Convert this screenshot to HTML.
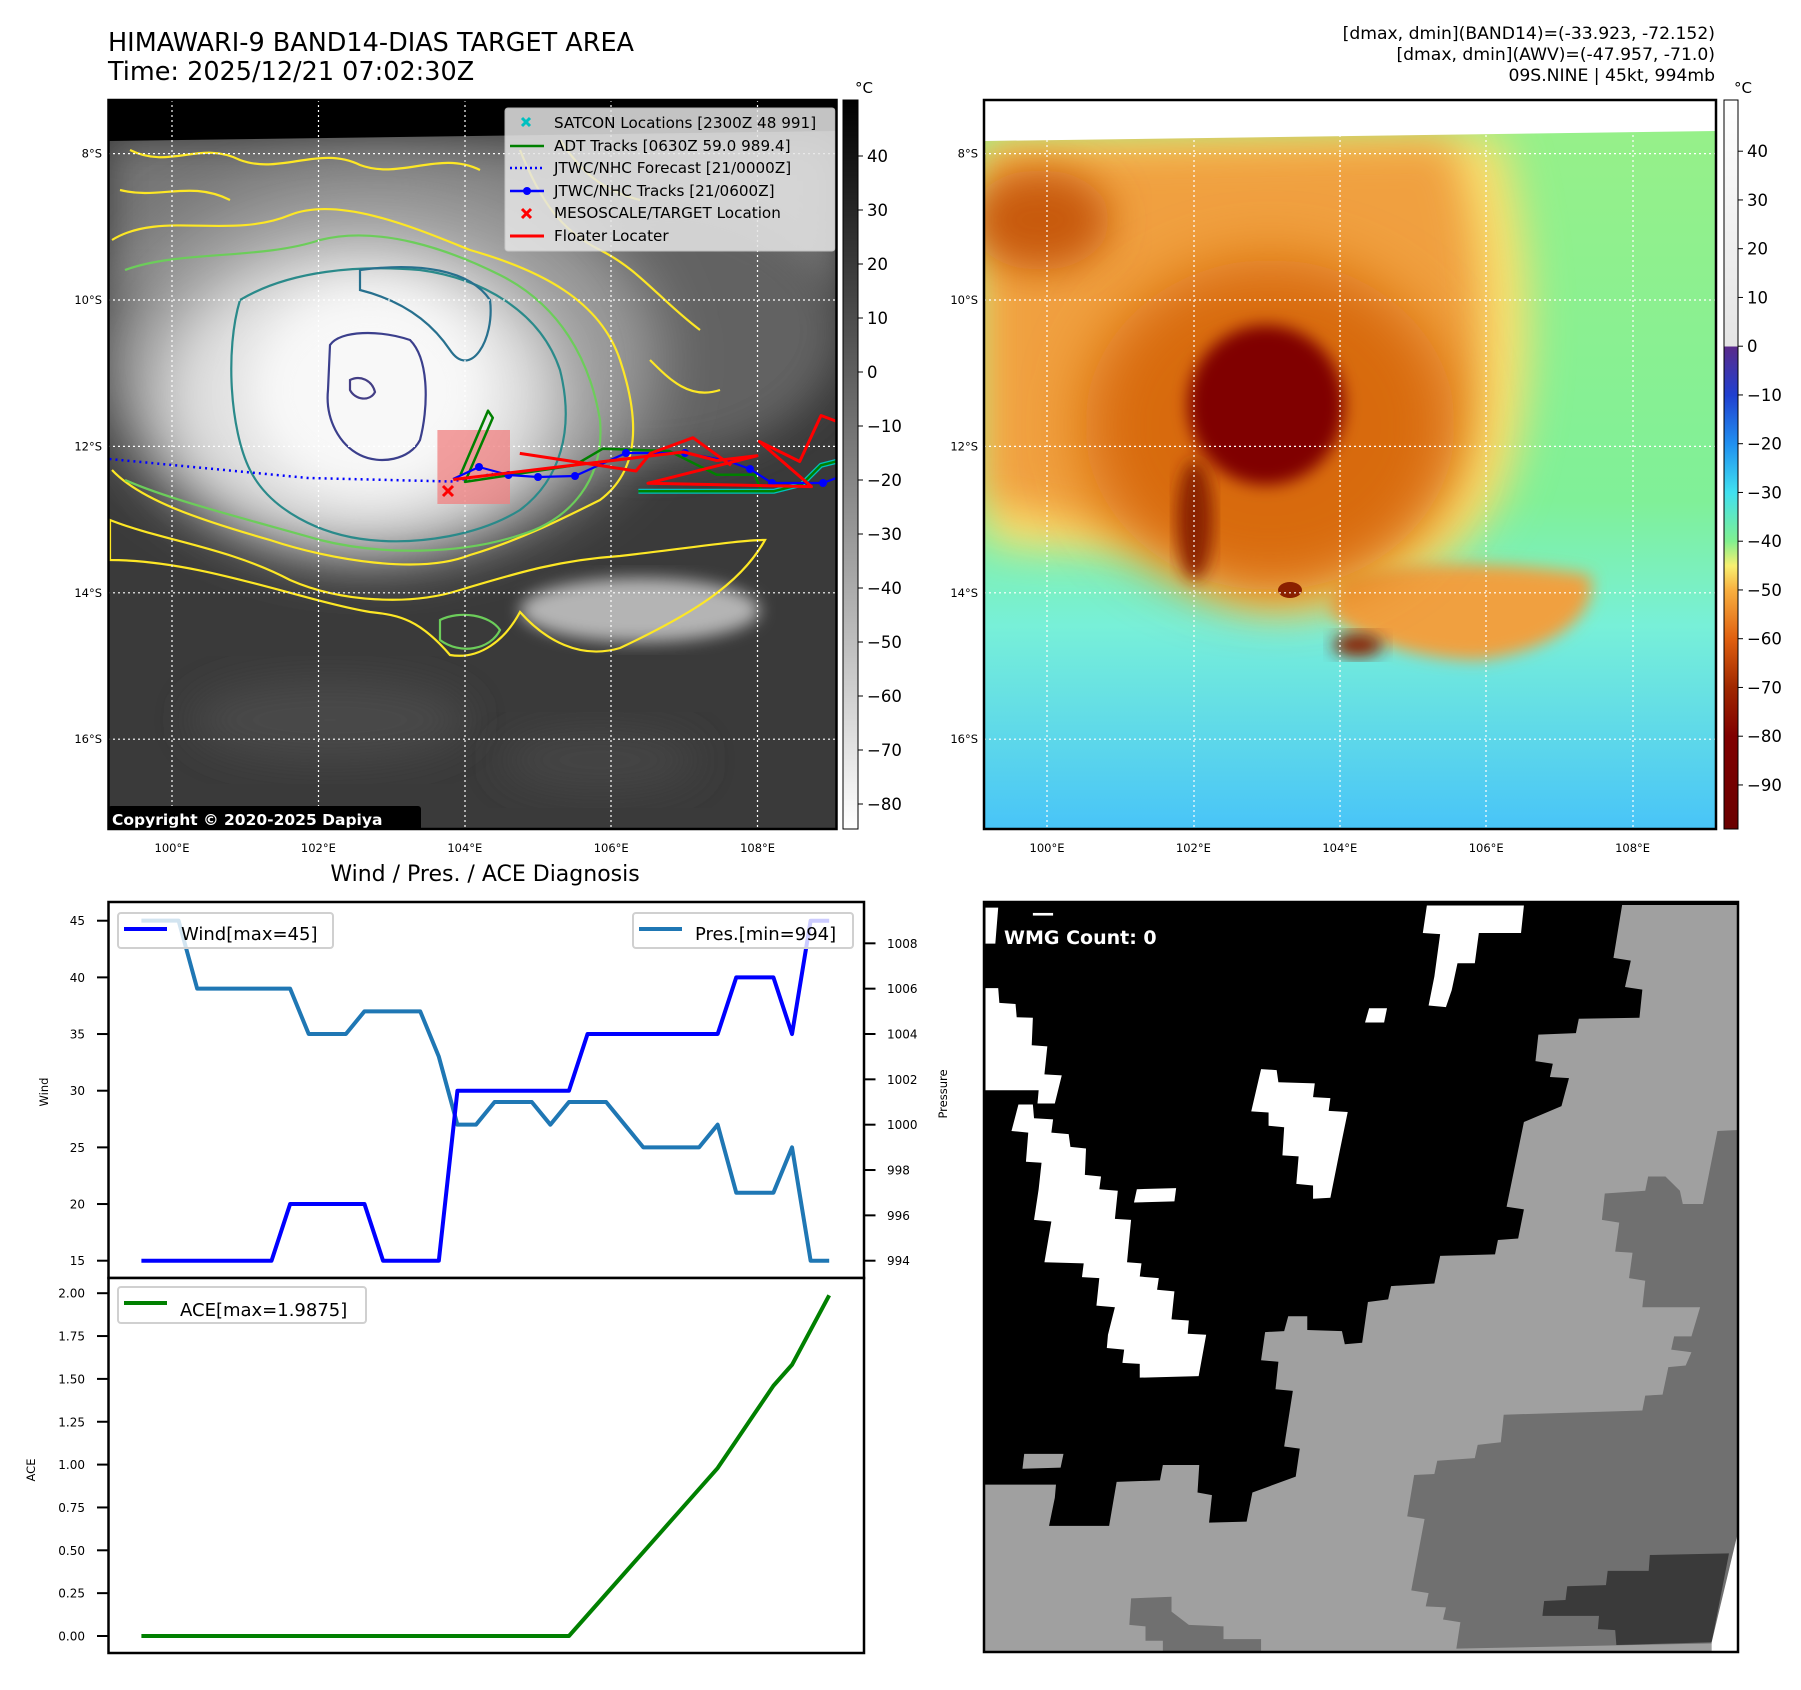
<!DOCTYPE html>
<html><head><meta charset="utf-8"><style>
html,body{margin:0;padding:0;background:#fff;}
svg{display:block;font-family:"DejaVu Sans","Liberation Sans",sans-serif;}
</style></head><body>
<svg id="fig" width="1801" height="1690" viewBox="0 0 1801 1690" xmlns="http://www.w3.org/2000/svg">
<defs>
<clipPath id="cl"><rect x="108.5" y="100" width="728" height="729"/></clipPath>
<clipPath id="cr"><rect x="984" y="100" width="732" height="729"/></clipPath>
<clipPath id="cb"><rect x="984" y="902" width="754" height="750"/></clipPath>
<filter id="b8" x="-20%" y="-20%" width="140%" height="140%"><feGaussianBlur stdDeviation="8"/></filter>
<filter id="b20" x="-30%" y="-30%" width="160%" height="160%"><feGaussianBlur stdDeviation="20"/></filter>
<filter id="b35" x="-40%" y="-40%" width="180%" height="180%"><feGaussianBlur stdDeviation="30"/></filter>
<linearGradient id="gcb" x1="0" y1="0" x2="0" y2="1"><stop offset="0" stop-color="#000"/><stop offset="1" stop-color="#fff"/></linearGradient>
<linearGradient id="ccb" x1="0" y1="0" x2="0" y2="1">
<stop offset="0" stop-color="#ffffff"/><stop offset="0.338" stop-color="#e4e4e4"/><stop offset="0.338" stop-color="#5a2a8a"/>
<stop offset="0.405" stop-color="#2040d0"/><stop offset="0.472" stop-color="#2090f0"/><stop offset="0.538" stop-color="#40e0f0"/>
<stop offset="0.605" stop-color="#80f090"/><stop offset="0.639" stop-color="#f8f070"/><stop offset="0.672" stop-color="#f8b040"/>
<stop offset="0.739" stop-color="#e06010"/><stop offset="0.806" stop-color="#a02800"/><stop offset="0.873" stop-color="#800000"/><stop offset="1" stop-color="#6a0000"/></linearGradient>
<linearGradient id="rbg" x1="0" y1="0" x2="0" y2="1">
<stop offset="0" stop-color="#98f088"/><stop offset="0.55" stop-color="#80f098"/><stop offset="0.72" stop-color="#78f0d8"/><stop offset="1" stop-color="#48c4f8"/></linearGradient>
</defs>

<text x="108" y="51" font-size="25.5">HIMAWARI-9 BAND14-DIAS TARGET AREA</text>
<text x="108" y="80" font-size="25.5">Time: 2025/12/21 07:02:30Z</text>
<g font-size="17.2" text-anchor="end">
<text x="1715" y="39">[dmax, dmin](BAND14)=(-33.923, -72.152)</text>
<text x="1715" y="60">[dmax, dmin](AWV)=(-47.957, -71.0)</text>
<text x="1715" y="81">09S.NINE | 45kt, 994mb</text>
</g>

<g clip-path="url(#cl)">
<rect x="108" y="100" width="730" height="730" fill="#3a3a3a"/>
<rect x="108" y="140" width="730" height="150" fill="#767676" filter="url(#b20)"/>
<ellipse cx="650" cy="330" rx="190" ry="130" fill="#626262" filter="url(#b20)"/>
<ellipse cx="380" cy="360" rx="280" ry="190" fill="#9a9a9a" filter="url(#b35)"/>
<ellipse cx="360" cy="395" rx="200" ry="150" fill="#e2e2e2" filter="url(#b35)"/>
<ellipse cx="370" cy="390" rx="120" ry="105" fill="#f8f8f8" filter="url(#b20)"/>
<ellipse cx="640" cy="610" rx="120" ry="32" fill="#b4b4b4" filter="url(#b8)"/>
<ellipse cx="330" cy="720" rx="140" ry="40" fill="#484848" filter="url(#b20)"/>
<ellipse cx="600" cy="760" rx="100" ry="30" fill="#454545" filter="url(#b20)"/>
<polygon points="108,100 840,100 840,131 108,141" fill="#000"/>
<g fill="none" stroke-width="2.2">
<path d="M110,520 C160,540 230,548 290,580 C340,602 410,606 460,590 C520,572 560,560 620,556 C690,548 740,540 765,540 C740,585 690,615 620,648 C580,660 545,640 520,612 C505,640 480,660 450,655 C420,620 400,615 370,612 C300,600 200,560 110,560 Z" stroke="#fde725"/>
<path d="M112,240 C160,210 230,240 290,215 C340,195 420,230 470,250 C540,270 600,300 620,360 C640,420 640,470 600,500 C560,520 520,540 470,555 C420,575 330,560 270,540 C200,520 140,500 112,470" stroke="#fde725"/>
<path d="M130,150 C170,170 200,140 240,160 C280,175 320,145 360,165 C400,180 440,150 480,170 M120,190 C160,200 190,180 230,200 M520,150 C540,200 560,230 600,250 C640,270 660,300 700,330 M650,360 C670,380 690,400 720,390 M560,140 C580,170 600,190 640,200" stroke="#fde725"/>
<path d="M125,270 C180,250 260,260 320,240 C380,225 450,250 500,275 C560,305 590,360 600,420 C605,480 570,520 520,535 C460,555 380,555 320,540 C250,520 170,500 125,480" stroke="#6ccd5a"/>
<path d="M240,300 C290,270 360,265 420,270 C480,278 540,310 560,370 C575,430 560,480 520,510 C480,535 420,545 370,540 C320,535 270,510 250,470 C230,430 225,350 240,300 Z" stroke="#2a8a8a"/>
<path d="M360,270 C420,262 470,270 490,300 C495,340 470,380 450,350 C430,320 400,300 360,290 Z" stroke="#27708e"/>
<path d="M330,345 C340,330 380,330 410,340 C430,360 428,410 420,440 C410,460 380,465 360,455 C340,445 325,420 328,390 Z" stroke="#3b3f8c"/>
<path d="M350,380 C360,375 372,380 375,392 C370,402 355,400 350,390 Z" stroke="#433e85"/>
<path d="M440,620 C460,610 490,615 500,630 C490,650 460,655 440,640 Z" stroke="#6ccd5a"/>
</g>
<g fill="none" stroke-width="1.2" stroke="#fff" stroke-dasharray="2,3">
<line x1="172" y1="100" x2="172" y2="830"/><line x1="318.5" y1="100" x2="318.5" y2="830"/><line x1="465" y1="100" x2="465" y2="830"/><line x1="611" y1="100" x2="611" y2="830"/><line x1="757.5" y1="100" x2="757.5" y2="830"/>
<line x1="108" y1="153.6" x2="838" y2="153.6"/><line x1="108" y1="300" x2="838" y2="300"/><line x1="108" y1="446.4" x2="838" y2="446.4"/><line x1="108" y1="592.8" x2="838" y2="592.8"/><line x1="108" y1="739.2" x2="838" y2="739.2"/>
</g>
<rect x="437.4" y="430" width="72.6" height="74" fill="#f08080" opacity="0.75"/>
<g fill="none" stroke-linejoin="round">
<polyline points="109.5,459 308,478 451,481.5 493,474" stroke="#0000ff" stroke-width="2.5" stroke-dasharray="2,4"/>
<polyline points="460.5,474.7 488,410.7 492.8,417.8 465,481.9 574.4,465.3 602.8,448.7 669.2,451 716.7,474.7 754.6,474.7 761.7,491.3" stroke="#008000" stroke-width="2.5"/>
<polyline points="638.4,491.3 773.6,491.3 802,484.2 821,465.3 840,460.5" stroke="#00c0c0" stroke-width="5"/>
<polyline points="638.4,491.3 773.6,491.3 802,484.2 821,465.3 840,460.5" stroke="#008000" stroke-width="2.5"/>
<polyline points="453,479 479,467 508.5,475 538,477 575,476 626,453 685,453 728,461 750,469 772,483 823,483 839,477" stroke="#0000ff" stroke-width="2.2"/>
<g fill="#0000ff"><circle cx="479" cy="467" r="4"/><circle cx="508.5" cy="475" r="4"/><circle cx="538" cy="477" r="4"/><circle cx="575" cy="476" r="4"/><circle cx="626" cy="453" r="4"/><circle cx="685" cy="453" r="4"/><circle cx="750" cy="469" r="4"/><circle cx="772" cy="483" r="4"/><circle cx="823" cy="483" r="4"/></g>
<polyline points="453.4,479.5 683.5,452 716.7,460.5 757,455.8 647.9,483.3 811.5,486.6 759.4,441.5 799.7,461.5 821,415.5 840,422.6" stroke="#ff0000" stroke-width="3"/>
<polyline points="519.8,453.4 636,471 650.3,453.4 693,437.7 731,465.3" stroke="#ff0000" stroke-width="3"/>
<path d="M443,486 L453,496 M453,486 L443,496" stroke="#ff0000" stroke-width="3"/>
</g>
<g>
<rect x="505" y="108" width="330" height="143" rx="3" fill="#e6e6e6" opacity="0.85" stroke="#d0d0d0"/>
<g font-size="15.2" fill="#000">
<text x="554" y="128">SATCON Locations [2300Z 48 991]</text>
<text x="554" y="151">ADT Tracks [0630Z 59.0 989.4]</text>
<text x="554" y="173">JTWC/NHC Forecast [21/0000Z]</text>
<text x="554" y="196">JTWC/NHC Tracks [21/0600Z]</text>
<text x="554" y="218">MESOSCALE/TARGET Location</text>
<text x="554" y="241">Floater Locater</text>
</g>
<path d="M522,118 L530,126 M530,118 L522,126" stroke="#00c0c0" stroke-width="3"/>
<line x1="510" y1="146" x2="544" y2="146" stroke="#008000" stroke-width="2.5"/>
<line x1="510" y1="168" x2="544" y2="168" stroke="#0000ff" stroke-width="2.5" stroke-dasharray="2,3"/>
<line x1="510" y1="191" x2="544" y2="191" stroke="#0000ff" stroke-width="2.5"/><circle cx="527" cy="191" r="4" fill="#0000ff"/>
<path d="M522,209 L531,218 M531,209 L522,218" stroke="#ff0000" stroke-width="3"/>
<line x1="510" y1="236" x2="544" y2="236" stroke="#ff0000" stroke-width="3"/>
</g>
<rect x="108" y="806" width="313" height="26" rx="3" fill="#000"/>
<text x="112" y="825" font-size="15.5" font-weight="bold" fill="#fff">Copyright © 2020-2025 Dapiya</text>
</g>
<rect x="108.5" y="100" width="728" height="729" fill="none" stroke="#000" stroke-width="2.5"/>
<rect x="843" y="100" width="15" height="729" fill="url(#gcb)" stroke="#000" stroke-width="1"/>
<text x="855" y="93" font-size="15">°C</text>
<g id="lcbt" font-size="16.5"></g>

<g clip-path="url(#cr)">
<rect x="984" y="100" width="732" height="730" fill="url(#rbg)"/>
<path d="M984,140 L1500,135 C1540,250 1540,420 1500,500 C1460,560 1400,600 1300,610 C1230,615 1190,580 1150,560 C1100,540 1040,560 984,540 Z" fill="#f8e070" filter="url(#b20)"/>
<path d="M984,150 L1450,140 C1490,250 1490,400 1450,480 C1410,540 1350,580 1290,590 C1230,595 1200,560 1160,540 C1100,520 1040,520 984,500 Z" fill="#f0a040" filter="url(#b20)"/>
<path d="M1340,580 C1400,560 1500,560 1590,575 C1600,610 1560,650 1480,660 C1420,660 1350,640 1330,610 Z" fill="#f0a040" filter="url(#b8)"/>
<ellipse cx="1040" cy="220" rx="70" ry="50" fill="#c85a10" filter="url(#b20)"/>
<ellipse cx="1270" cy="425" rx="185" ry="165" fill="#d86a10" filter="url(#b35)"/>
<ellipse cx="1266" cy="405" rx="78" ry="80" fill="#800000" filter="url(#b8)"/>
<ellipse cx="1195" cy="520" rx="18" ry="60" fill="#8a2000" filter="url(#b8)"/>
<ellipse cx="1358" cy="645" rx="25" ry="12" fill="#8a2000" filter="url(#b8)"/>
<ellipse cx="1290" cy="590" rx="12" ry="8" fill="#8a2000"/>
<polygon points="984,100 1716,100 1716,131 984,141" fill="#fff"/>
<g fill="none" stroke-width="1.2" stroke="#fff" stroke-dasharray="2,3">
<line x1="1047" y1="100" x2="1047" y2="830"/><line x1="1194" y1="100" x2="1194" y2="830"/><line x1="1340" y1="100" x2="1340" y2="830"/><line x1="1486" y1="100" x2="1486" y2="830"/><line x1="1633" y1="100" x2="1633" y2="830"/>
<line x1="984" y1="153.6" x2="1716" y2="153.6"/><line x1="984" y1="300" x2="1716" y2="300"/><line x1="984" y1="446.4" x2="1716" y2="446.4"/><line x1="984" y1="592.8" x2="1716" y2="592.8"/><line x1="984" y1="739.2" x2="1716" y2="739.2"/>
</g>
</g>
<rect x="984" y="100" width="732" height="729" fill="none" stroke="#000" stroke-width="2.5"/>
<rect x="1724" y="100" width="14" height="729" fill="url(#ccb)" stroke="#000" stroke-width="1"/>
<text x="1734" y="93" font-size="15">°C</text>
<g id="rcbt" font-size="16.5"></g>
<g id="maplabels" font-size="11.5"></g>

<text x="485" y="881" font-size="22" text-anchor="middle">Wind / Pres. / ACE Diagnosis</text>
<rect x="108.5" y="902" width="755.5" height="376" fill="#fff" stroke="#000" stroke-width="2.5"/>
<rect x="108.5" y="1278" width="755.5" height="375" fill="#fff" stroke="#000" stroke-width="2.5"/>
<g id="chart"></g>
<text transform="translate(48,1092) rotate(-90)" font-size="11.5" text-anchor="middle">Wind</text>
<text transform="translate(947,1094) rotate(-90)" font-size="11.5" text-anchor="middle">Pressure</text>
<text transform="translate(35,1470) rotate(-90)" font-size="11.5" text-anchor="middle">ACE</text>
<g>
<rect x="118" y="913" width="215" height="35" rx="3" fill="#fff" fill-opacity="0.8" stroke="#d0d0d0" stroke-width="2"/>
<line x1="124" y1="929" x2="167" y2="929" stroke="#0000ff" stroke-width="4"/>
<text x="181" y="940" font-size="18">Wind[max=45]</text>
</g>
<g>
<rect x="633" y="913" width="220" height="35" rx="3" fill="#fff" fill-opacity="0.8" stroke="#d0d0d0" stroke-width="2"/>
<line x1="639" y1="929" x2="682" y2="929" stroke="#1f77b4" stroke-width="4"/>
<text x="695" y="940" font-size="18">Pres.[min=994]</text>
</g>
<g>
<rect x="118" y="1287" width="248" height="36" rx="3" fill="#fff" fill-opacity="0.8" stroke="#d0d0d0" stroke-width="2"/>
<line x1="124" y1="1303" x2="167" y2="1303" stroke="#008000" stroke-width="4"/>
<text x="180" y="1316" font-size="18">ACE[max=1.9875]</text>
</g>

<g clip-path="url(#cb)">
<rect x="984" y="902" width="754" height="750" fill="#000"/>
<g transform="translate(900,860) scale(0.5777,0.5293)">
<polygon fill="#a0a0a0" points="1250,85 1235,185 1265,190 1255,240 1285,245 1280,298 1175,300 1170,327 1105,330 1100,380 1130,385 1125,410 1158,412 1145,465 1080,495 1050,655 1080,660 1070,715 1035,718 1030,745 935,748 925,800 850,805 845,830 810,835 800,912 770,915 765,890 705,888 705,862 672,862 665,890 632,892 625,945 655,948 650,1000 680,1003 665,1108 692,1112 685,1165 610,1195 600,1250 535,1252 540,1200 515,1195 518,1143 455,1143 450,1172 375,1175 362,1258 258,1258 268,1205 270,1180 145,1180 145,1500 1455,1500 1455,85"/>
<polygon fill="#707070" points="1415,512 1390,650 1355,650 1350,625 1325,598 1295,598 1290,625 1220,630 1215,680 1245,685 1238,740 1268,742 1262,790 1290,795 1285,845 1385,845 1370,900 1340,900 1335,925 1370,930 1360,955 1330,958 1320,1010 1290,1012 1285,1040 1045,1048 1040,1100 1000,1105 995,1130 930,1135 925,1160 890,1162 878,1240 908,1245 885,1380 915,1385 910,1410 945,1412 940,1435 970,1440 963,1490 1410,1480 1455,1250 1455,510"/>
<polygon fill="#707070" points="400,1395 470,1392 470,1420 500,1445 560,1448 560,1472 625,1472 625,1500 455,1500 455,1475 425,1475 425,1448 397,1445"/>
<polygon fill="#3a3a3a" points="1298,1313 1435,1310 1405,1478 1240,1483 1238,1455 1208,1453 1210,1428 1112,1428 1115,1400 1152,1398 1155,1372 1222,1370 1225,1343 1296,1343"/>
<polygon fill="#fff" points="1405,1478 1455,1250 1455,1500 1405,1500"/>
<polygon fill="#a0a0a0" points="215,1122 283,1122 278,1148 212,1150"/>
<g fill="#fff">
<polygon points="148,242 170,242 172,270 200,272 202,297 230,298 228,350 255,352 250,405 280,407 268,460 238,460 240,435 148,435"/>
<polygon points="205,462 230,462 232,488 265,490 262,515 292,518 295,542 322,545 320,595 348,598 345,622 377,625 372,678 400,680 393,760 418,762 415,787 448,790 445,812 475,815 470,868 500,870 498,895 530,897 517,975 415,978 415,952 385,950 388,925 358,922 360,897 372,845 340,842 345,790 315,788 318,762 250,760 262,683 232,680 240,622 245,572 218,570 222,515 193,512"/>
<polygon points="410,622 478,620 475,645 405,647"/>
<polygon points="625,395 652,397 655,420 718,422 715,448 745,450 742,474 775,476 760,556 745,638 715,640 715,615 686,612 690,560 662,558 665,505 638,502 638,477 608,475"/>
<polygon points="882,86 1080,86 1075,138 1002,138 995,195 965,195 955,246 945,278 915,275 925,220 935,140 905,138 912,86"/>
<polygon points="812,280 843,280 838,307 805,307"/>
<polygon points="148,90 170,90 165,158 148,158"/>
<rect x="230" y="100" width="35" height="5"/>
</g>
</g>
<text x="1004" y="944" font-size="19" font-weight="bold" fill="#fff">WMG Count: 0</text>
</g>
<rect x="984" y="902" width="754" height="750" fill="none" stroke="#000" stroke-width="2.5"/>
</svg>
<script>
const timeIndex = [0,1,2,3,4,5,6,7,8,9,10,11,12,13,14,15,16,17,18,19,20,21,22,23,24,25,26,27,28,29,30,31,32,33,34,35,36,37];
const windKt = [15,15,15,15,15,15,15,15,20,20,20,20,20,15,15,15,15,30,30,30,30,30,30,30,35,35,35,35,35,35,35,35,40,40,40,35,45,45];
const presMb = [1009,1009,1009,1006,1006,1006,1006,1006,1006,1004,1004,1004,1005,1005,1005,1005,1003,1000,1000,1001,1001,1001,1000,1001,1001,1001,1000,999,999,999,999,1000,997,997,997,999,994,994];
const aceVal = [0,0,0,0,0,0,0,0,0,0,0,0,0,0,0,0,0,0,0,0,0,0,0,0,0.1225,0.245,0.3675,0.49,0.6125,0.735,0.8575,0.98,1.14,1.30,1.46,1.5825,1.785,1.9875];
const windTicks = [15,20,25,30,35,40,45];
const presTicks = [994,996,998,1000,1002,1004,1006,1008];
const aceTicks = [0,0.25,0.5,0.75,1.0,1.25,1.5,1.75,2.0];
const irCbTicks = [40,30,20,10,0,-10,-20,-30,-40,-50,-60,-70,-80];
const awvCbTicks = [40,30,20,10,0,-10,-20,-30,-40,-50,-60,-70,-80,-90];
const lonTicks = [100,102,104,106,108];
const latTicks = [8,10,12,14,16];

const NS = 'http://www.w3.org/2000/svg';
const xIdx = i => 141.4 + i * (829.2 - 141.4) / 37;
const yWind = v => 1260.7 - (v - 15) * 11.333;
const yPres = p => 1260.7 - (p - 994) * 22.67;
const yAce = a => 1636 - a * 171.4;
const yIrCb = v => 156 + (40 - v) * 5.4;
const yAwvCb = v => 151.2 + (40 - v) * 4.875;
const xLonL = l => 172 + (l - 100) * 73.2;
const xLonR = l => 1047 + (l - 100) * 73.2;
const yLat = l => 153.6 + (l - 8) * 73.2;

function mk(tag, attrs, parent, txt) {
  const e = document.createElementNS(NS, tag);
  for (const k in attrs) e.setAttribute(k, attrs[k]);
  if (txt !== undefined) e.textContent = txt;
  parent.appendChild(e);
  return e;
}
const chart = document.getElementById('chart');
function fmt(v){ const m = v < 0 ? '\u2212' : ''; return m + Math.abs(v); }

windTicks.forEach(v => {
  const g = mk('g', {}, chart);
  
  
  mk('line', {x1: 97, x2: 108.5, y1: yWind(v), y2: yWind(v), stroke: '#000', 'stroke-width': 2}, g);
  mk('text', {x: 85, y: yWind(v) + 4.5, 'font-size': 12, 'text-anchor': 'end'}, g, String(v));
});
presTicks.forEach(v => {
  const g = mk('g', {}, chart);
  
  
  mk('line', {x1: 864, x2: 875.5, y1: yPres(v), y2: yPres(v), stroke: '#000', 'stroke-width': 2}, g);
  mk('text', {x: 887, y: yPres(v) + 4.5, 'font-size': 12}, g, String(v));
});
aceTicks.forEach(v => {
  const g = mk('g', {}, chart);
  
  
  mk('line', {x1: 97, x2: 108.5, y1: yAce(v), y2: yAce(v), stroke: '#000', 'stroke-width': 2}, g);
  mk('text', {x: 85, y: yAce(v) + 4.5, 'font-size': 12, 'text-anchor': 'end'}, g, v.toFixed(2));
});

const pres = mk('polyline', {points: timeIndex.map(i => xIdx(i) + ',' + yPres(presMb[i])).join(' '), fill: 'none', stroke: '#1f77b4', 'stroke-width': 4, 'stroke-linejoin': 'round'}, chart);


const wind = mk('polyline', {points: timeIndex.map(i => xIdx(i) + ',' + yWind(windKt[i])).join(' '), fill: 'none', stroke: '#0000ff', 'stroke-width': 4, 'stroke-linejoin': 'round'}, chart);


const ace = mk('polyline', {points: timeIndex.map(i => xIdx(i) + ',' + yAce(aceVal[i])).join(' '), fill: 'none', stroke: '#008000', 'stroke-width': 4, 'stroke-linejoin': 'round'}, chart);



const lc = document.getElementById('lcbt');
irCbTicks.forEach(v => {
  mk('line', {x1: 858, x2: 863, y1: yIrCb(v), y2: yIrCb(v), stroke: '#000'}, lc);
  const t = mk('text', {x: 867, y: yIrCb(v) + 6}, lc, fmt(v));
  
  
});
const rc = document.getElementById('rcbt');
awvCbTicks.forEach(v => {
  mk('line', {x1: 1738, x2: 1743, y1: yAwvCb(v), y2: yAwvCb(v), stroke: '#000'}, rc);
  const t = mk('text', {x: 1747, y: yAwvCb(v) + 6}, rc, fmt(v));
  
  
});
const ml = document.getElementById('maplabels');
lonTicks.forEach(l => {
  [xLonL(l), xLonR(l)].forEach(x => {
    const t = mk('text', {x: x, y: 852, 'text-anchor': 'middle'}, ml, l + '\u00B0E');
    
    
  });
});
latTicks.forEach(l => {
  [102, 978].forEach(x => {
    const t = mk('text', {x: x, y: yLat(l) + 4, 'text-anchor': 'end'}, ml, l + '\u00B0S');
    
    
  });
});
</script>
</body></html>
